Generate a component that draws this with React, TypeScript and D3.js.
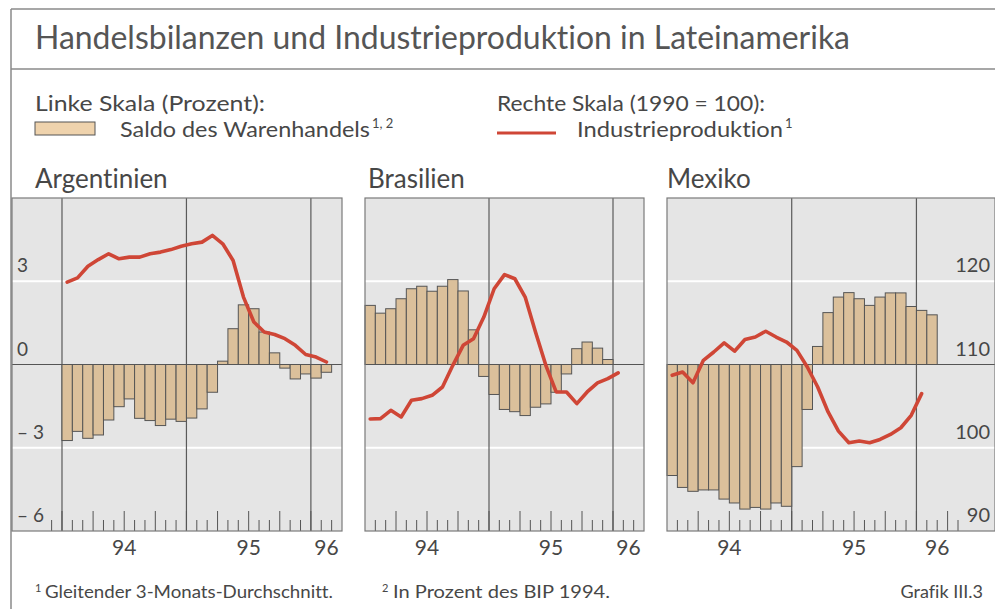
import React from 'react';
import * as d3 from 'd3';

// Monthly values, index 0 = January 1994
const argTrade = [-2.74, -2.41, -2.66, -2.54, -2.0, -1.52, -1.24, -1.94, -2.02, -2.2, -1.97, -2.05, -1.93, -1.6, -1.0, 0.12, 1.29, 2.15, 2.01, 1.17, 0.42, -0.13, -0.52, -0.34, -0.49, -0.28];
const argIP = [119.9, 120.4, 121.8, 122.6, 123.3, 122.7, 122.9, 122.9, 123.3, 123.5, 123.8, 124.2, 124.5, 124.7, 125.5, 124.5, 122.5, 118.1, 115.1, 113.9, 113.6, 113.1, 112.3, 111.2, 110.9, 110.3];

const braTrade = [2.13, 1.85, 2.01, 2.37, 2.73, 2.82, 2.64, 2.82, 3.06, 2.65, 1.25, -0.43, -1.08, -1.62, -1.7, -1.84, -1.54, -1.42, -1.0, -0.34, 0.57, 0.81, 0.59, 0.18];
const braIP = [103.45, 103.5, 104.5, 103.7, 105.7, 105.9, 106.3, 107.3, 109.9, 112.3, 113.1, 115.7, 119.1, 120.8, 120.3, 118.1, 113.9, 109.9, 106.7, 106.7, 105.3, 106.7, 107.8, 108.3, 109.0];

const mexTrade = [-4.0, -4.43, -4.57, -4.52, -4.52, -4.85, -4.99, -5.21, -5.15, -5.21, -4.99, -5.11, -3.68, -1.62, 0.65, 1.87, 2.43, 2.59, 2.37, 2.13, 2.43, 2.58, 2.58, 2.09, 1.95, 1.79];
const mexIP = [108.7, 109.1, 107.8, 110.5, 111.5, 112.6, 111.6, 113.0, 113.3, 114.0, 113.3, 112.7, 111.7, 109.7, 107.3, 104.3, 102.0, 100.6, 100.8, 100.6, 101.0, 101.6, 102.4, 103.9, 106.5];

const yearLabels = ['94', '95', '96'];
const leftTicks = [3, 0, -3, -6];
const leftTickLabels = ['3', '0', '– 3', '– 6'];
const rightTicks = [120, 110, 100, 90];
const gridLeft = [3, -3];

const FONT = 'Lato, "Open Sans", sans-serif';
const TXT = '#474747';
const TOP = 198;
const BOTTOM = 531;

const yL = d3.scaleLinear().domain([-6, 6]).range([BOTTOM, TOP]);
const yR = d3.scaleLinear().domain([90, 130]).range([BOTTOM, TOP]);

type Panel = {
  name: string;
  titleX: number;
  trade: number[];
  ip: number[];
  px0: number;
  px1: number;
  bgRight: number;
  m0: number;
  m1: number;
  t0: number;
  t1: number;
  left?: boolean;
  right?: boolean;
};

const panels: Panel[] = [
  { name: 'Argentinien', titleX: 35, trade: argTrade, ip: argIP, px0: 12, px1: 342, bgRight: 342, m0: -4.82, m1: 27, t0: -1, t1: 26, left: true },
  { name: 'Brasilien', titleX: 368, trade: braTrade, ip: braIP, px0: 365, px1: 644, bgRight: 644, m0: 0, m1: 27, t0: 1, t1: 26 },
  { name: 'Mexiko', titleX: 667, trade: mexTrade, ip: mexIP, px0: 667, px1: 958, bgRight: 995, m0: 0, m1: 28, t0: 1, t1: 28, right: true },
];

function PanelView({ p }: { p: Panel }) {
  const x = d3.scaleLinear().domain([p.m0, p.m1]).range([p.px0, p.px1]);
  const line = d3
    .line<number>()
    .x((_, i) => x(i + 0.5))
    .y((v) => yR(v))
    .curve(d3.curveLinear);
  const ticks = d3.range(p.t0, p.t1 + 1);
  const years = [0, 12, 24].filter((m) => m > p.m0 && m < p.m1);
  const labelX = [x(6), x(18), (x(24) + x(p.m1)) / 2];
  return (
    <g>
      <rect x={p.px0} y={TOP} width={p.bgRight - p.px0} height={BOTTOM - TOP} fill="#e5e5e5" />
      {gridLeft.map((g) => (
        <line key={g} x1={p.px0} x2={p.bgRight} y1={yL(g)} y2={yL(g)} stroke="#ffffff" strokeWidth={2.2} />
      ))}
      {years.map((m) => (
        <line key={m} x1={x(m)} x2={x(m)} y1={TOP} y2={BOTTOM} stroke="#5a5a5a" strokeWidth={1.2} />
      ))}
      {p.trade.map((v, i) => (
        <rect
          key={i}
          x={x(i)}
          y={yL(Math.max(v, 0))}
          width={x(i + 1) - x(i)}
          height={Math.abs(yL(v) - yL(0))}
          fill="#dbc09b"
          stroke="#555"
          strokeWidth={1}
        />
      ))}
      <line x1={p.px0} x2={p.bgRight} y1={yL(0)} y2={yL(0)} stroke="#555" strokeWidth={1.2} />
      {ticks.map((m) => (
        <line
          key={m}
          x1={x(m)}
          x2={x(m)}
          y1={BOTTOM}
          y2={BOTTOM - (m % 3 === 0 ? 20 : 11)}
          stroke="#555"
          strokeWidth={1}
        />
      ))}
      <rect x={p.px0} y={TOP} width={p.bgRight - p.px0} height={BOTTOM - TOP} fill="none" stroke="#7a7a7a" strokeWidth={1.2} />
      <path d={line(p.ip) || ''} fill="none" stroke="#cf4636" strokeWidth={3.6} strokeLinejoin="round" strokeLinecap="round" />
      {yearLabels.map((t, i) => (
        <text key={t} x={labelX[i]} y={555} textAnchor="middle" fontSize={21} fill={TXT} fontFamily={FONT}>
          {t}
        </text>
      ))}
      {p.left &&
        leftTicks.map((v, i) => (
          <text key={v} x={17} y={yL(v) - 9} fontSize={19} fill={TXT} fontFamily={FONT}>
            {leftTickLabels[i]}
          </text>
        ))}
      {p.right &&
        rightTicks.map((v) => (
          <text key={v} x={990} y={yR(v) - 9} textAnchor="end" fontSize={20} fill={TXT} fontFamily={FONT}>
            {v}
          </text>
        ))}
      <text x={p.titleX} y={188} fontSize={26} fill={TXT} fontFamily={FONT}>
        {p.name}
      </text>
    </g>
  );
}

export default function App() {
  return (
    <svg
      width={995}
      height={609}
      style={{ position: 'absolute', left: 0, top: 0, background: '#fff', fontVariantLigatures: 'none' }}
    >
      <rect x={0} y={0} width={995} height={609} fill="#fff" />
      <line x1={11} x2={995} y1={9} y2={9} stroke="#8a8a8a" strokeWidth={1.5} />
      <line x1={11} x2={11} y1={9} y2={609} stroke="#8a8a8a" strokeWidth={1.5} />
      <line x1={11} x2={995} y1={69} y2={69} stroke="#8a8a8a" strokeWidth={1.5} />
      <text x={35} y={49} fontSize={32} fill="#555" fontFamily={FONT} textLength={815} lengthAdjust="spacingAndGlyphs">
        Handelsbilanzen und Industrieproduktion in Lateinamerika
      </text>
      <text x={35} y={111} fontSize={21} fill={TXT} fontFamily={FONT} textLength={230} lengthAdjust="spacingAndGlyphs">
        Linke Skala (Prozent):
      </text>
      <rect x={35} y={122} width={60} height={13} fill="#efd3ad" stroke="#555" strokeWidth={1} />
      <text x={120} y={137} fontSize={21} fill={TXT} fontFamily={FONT}>
        <tspan textLength={250} lengthAdjust="spacingAndGlyphs">Saldo des Warenhandels</tspan>
        <tspan fontSize={13} dx={2} dy={-9}>1, 2</tspan>
      </text>
      <text x={497} y={111} fontSize={21} fill={TXT} fontFamily={FONT} textLength={268} lengthAdjust="spacingAndGlyphs">
        Rechte Skala (1990 = 100):
      </text>
      <line x1={497} x2={556} y1={133} y2={133} stroke="#cf4636" strokeWidth={3.2} />
      <text x={577} y={137} fontSize={21} fill={TXT} fontFamily={FONT}>
        <tspan textLength={206} lengthAdjust="spacingAndGlyphs">Industrieproduktion</tspan>
        <tspan fontSize={13} dx={2} dy={-9}>1</tspan>
      </text>
      {panels.map((p) => (
        <PanelView key={p.name} p={p} />
      ))}
      <text x={35} y={598} fontSize={11} fill={TXT} fontFamily={FONT} dy={-6}>
        1
      </text>
      <text x={45} y={598} fontSize={18} fill={TXT} fontFamily={FONT} textLength={288} lengthAdjust="spacingAndGlyphs">
        Gleitender 3-Monats-Durchschnitt.
      </text>
      <text x={382} y={598} fontSize={11} fill={TXT} fontFamily={FONT} dy={-6}>
        2
      </text>
      <text x={393} y={598} fontSize={18} fill={TXT} fontFamily={FONT} textLength={217} lengthAdjust="spacingAndGlyphs">
        In Prozent des BIP 1994.
      </text>
      <text x={983} y={598} textAnchor="end" fontSize={18} fill={TXT} fontFamily={FONT}>
        Grafik III.3
      </text>
    </svg>
  );
}
